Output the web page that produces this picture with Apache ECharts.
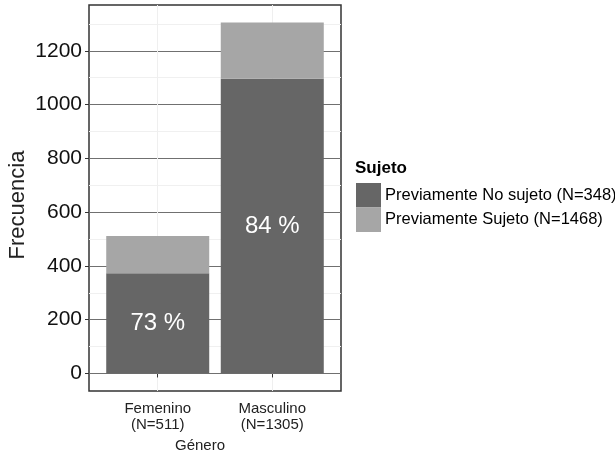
<!DOCTYPE html>
<html><head><meta charset="utf-8">
<script src="https://cdn.jsdelivr.net/npm/echarts@6/dist/echarts.min.js"></script>
<style>html,body{margin:0;padding:0;background:#fff}#c{width:615px;height:455px}</style>
</head><body><div id="c"></div>
<script>
var categories = ['Femenino\n(N=511)', 'Masculino\n(N=1305)'];
var catPos = [1, 2];
var noSujeto = [373, 1096];
var sujeto = [138, 209];
var pctLabels = ['73 %', '84 %'];
var yTicks = [0, 200, 400, 600, 800, 1000, 1200];
var yMinor = [100, 300, 500, 700, 900, 1100, 1300];
var seriesNames = ['Previamente No sujeto (N=348)', 'Previamente Sujeto (N=1468)'];

var yMin = -65.25, yMax = 1370.25;
var font = '"Liberation Sans", Arial, sans-serif';
var chart = echarts.init(document.getElementById('c'));
chart.setOption({
  animation: false,
  backgroundColor: '#fff',
  textStyle: { fontFamily: font },
  title: {
    text: 'Sujeto', left: 355, top: 160, padding: 0,
    textStyle: { fontSize: 17, fontWeight: 'bold', color: '#000', fontFamily: font }
  },
  legend: {
    orient: 'vertical', left: 356, top: 183, itemWidth: 25, itemHeight: 24.5, itemGap: 0,
    icon: 'rect', padding: 0,
    textStyle: { fontSize: 16.5, color: '#000', fontFamily: font, padding: [0, 0, 0, -1] },
    data: seriesNames
  },
  grid: { left: 89, top: 5, width: 252, height: 386, show: true, borderColor: '#333', borderWidth: 1.5,
    backgroundColor: '#fff', outerBoundsMode: 'none', containLabel: false },
  xAxis: [{
    type: 'value', min: 0.4, max: 2.6,
    name: 'Género', nameLocation: 'middle', nameGap: 46,
    nameTextStyle: { fontSize: 15, color: '#222', fontFamily: font, padding: [0, 30, 0, 0] },
    axisLine: { show: false },
    axisTick: { show: true, length: 4, customValues: catPos, lineStyle: { color: '#333' } },
    axisLabel: { customValues: catPos, fontSize: 15, color: '#222', margin: 10, lineHeight: 16,
      formatter: function (v) { var i = catPos.indexOf(Math.round(v)); return i >= 0 ? categories[i] : ''; } },
    splitLine: { show: true, lineStyle: { color: '#efefef', width: 1 } }
  }],
  yAxis: [{
    type: 'value', min: yMin, max: yMax,
    name: 'Frecuencia', nameLocation: 'middle', nameGap: 60, nameRotate: 90,
    nameTextStyle: { fontSize: 22, color: '#222', fontFamily: font, padding: [0, 14, 0, 0] },
    axisLine: { show: false },
    axisTick: { show: true, length: 4, customValues: yTicks, lineStyle: { color: '#333' } },
    axisLabel: { customValues: yTicks, fontSize: 21, color: '#111', margin: 7,
      formatter: function (v) { return String(v); } },
    splitLine: { show: true, lineStyle: { color: '#707070', width: 1.2 } }
  }, {
    type: 'value', min: yMin, max: yMax, position: 'left',
    axisLine: { show: false },
    axisTick: { show: false, customValues: yMinor },
    axisLabel: { show: false, customValues: yMinor },
    splitLine: { show: true, lineStyle: { color: '#f0f0f0', width: 1 } }
  }],
  series: [{
    name: seriesNames[0], type: 'bar', stack: 's', barWidth: 103,
    encode: { x: 1, y: 0 },
    itemStyle: { color: '#666666' },
    data: catPos.map(function (c, i) { return [noSujeto[i], c]; }),
    label: { show: true, position: 'inside', color: '#fff', fontSize: 24, fontFamily: font,
      formatter: function (p) { return pctLabels[p.dataIndex]; } }
  }, {
    name: seriesNames[1], type: 'bar', stack: 's', barWidth: 103,
    encode: { x: 1, y: 0 },
    itemStyle: { color: '#a6a6a6' },
    data: catPos.map(function (c, i) { return [sujeto[i], c]; })
  }]
});
</script></body></html>
